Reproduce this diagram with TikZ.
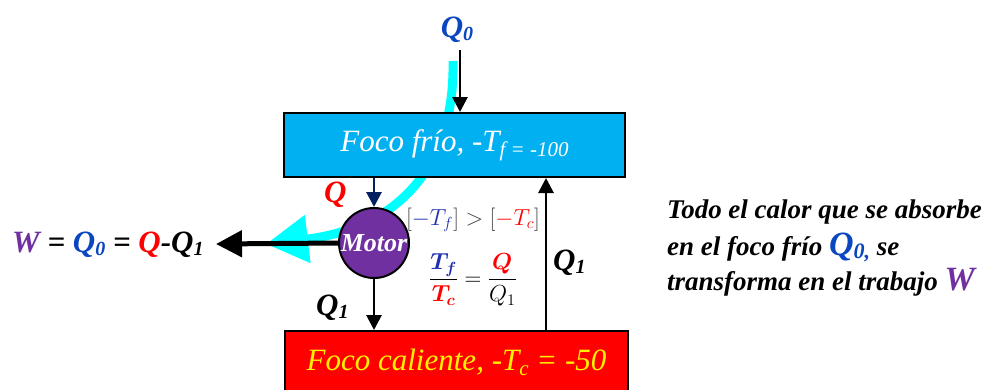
\documentclass[tikz,border=0pt]{standalone}
\usepackage{amsmath}
\usepackage{graphicx}
\usepackage{fontspec}
\setmainfont{Liberation Serif}
\usetikzlibrary{arrows.meta}
\definecolor{boxblue}{HTML}{00B0F0}
\definecolor{cyanc}{HTML}{00FFFF}
\definecolor{qblue}{HTML}{0A46C0}
\definecolor{mpurple}{HTML}{7030A0}
\definecolor{navy}{HTML}{002060}
\definecolor{mblue}{HTML}{2030B0}
\definecolor{gtext}{HTML}{404040}
\newcommand{\fs}[1]{\fontsize{#1}{#1}\selectfont}
\newcommand{\lsub}[3]{\raisebox{-#2pt}{\fs{#1}#3}}
\begin{document}
\begin{tikzpicture}[x=1pt,y=-1pt,
  arr/.style={-{Triangle[length=15pt,width=15pt]}, line width=2.8pt},
  lbl/.style={inner sep=0pt, anchor=base west, font=\bfseries\itshape\fs{31}},
  rtext/.style={inner sep=0pt, anchor=base west, font=\bfseries\itshape\fs{27}},
  focobox/.style={draw=black, line width=2pt, anchor=north west, inner sep=0pt, font=\itshape}]
\clip (0,0) rectangle (984,389);
\fill[white] (0,0) rectangle (984,389);
% cyan flow
\draw[cyanc, line width=9pt, -{Triangle[length=42pt,width=46pt]}]
  (453,61) .. controls (455,165) and (400,228) .. (266,244);
% boxes
\node[focobox, fill=boxblue, minimum width=341pt, minimum height=64pt, text=white, font=\itshape\fs{31}]
  (cold) at (283,112) {Foco frío, -T\lsub{21}{5}{f = -100}};
\node[focobox, fill=red, minimum width=343pt, minimum height=70pt, text=yellow, font=\itshape\fs{31}, text depth=14pt, text height=22pt]
  (hot) at (284,330) {Foco caliente, -T\lsub{21}{5}{c} = -50};
% motor
\node[circle, draw=black, line width=2pt, fill=mpurple, minimum size=70pt, inner sep=0pt,
  text=white, font=\bfseries\itshape\fs{26}] (motor) at (374,243) {Motor};
% Q0 input
\node[inner sep=0pt, anchor=base, text=qblue, font=\bfseries\itshape\fs{31}] (q0) at (457,37) {Q\lsub{20}{3}{0}};
\coordinate (q0s) at (460,50);
\draw[arr] (q0s) -- (q0s |- cold.north);
% arrows
\draw[arr, draw=navy, -{Triangle[length=15pt,width=15pt,fill=navy]}] (cold.south -| motor) -- (motor.north);
\draw[arr] (motor.south) -- (motor |- hot.north);
\coordinate (upx) at (546,330);
\draw[arr] (upx) -- (upx |- cold.south);
\coordinate (wtip) at (216,244);
\draw[line width=5pt, -{Triangle[length=26pt,width=26pt]}] (motor.west) -- (wtip);
% labels
\node[lbl, text=red] (lq) at (324,202) {Q};
\node[lbl] (lq1a) at (316,315) {Q\lsub{20}{3}{1}};
\node[lbl] (lq1b) at (553,270) {Q\lsub{20}{3}{1}};
\node[lbl] (weq) at (12,252) {\textcolor{mpurple}{W} = \textcolor{qblue}{Q\lsub{20}{3}{0}} = \textcolor{red}{Q}-Q\lsub{20}{3}{1}};
% formulas
\node[inner sep=0pt, anchor=base, text=gtext, font=\fs{20}] (ineq) at (473,225)
  {\scalebox{1.12}{$[\textcolor{mblue}{-T_f}] > [\textcolor{red}{-T_c}]$}};
\node[inner sep=0pt, text=black, font=\fs{20}] (frac) at (473,280)
  {\scalebox{1.12}{$\dfrac{\textcolor{mblue}{\boldsymbol{T_f}}}{\textcolor{red}{\boldsymbol{T_c}}}=\dfrac{\textcolor{red}{\boldsymbol{Q}}}{Q_1}$}};
% right text
\node[rtext] (t1) at (667,218) {Todo el calor que se absorbe};
\node[rtext] (t2) at (667,255) {en el foco frío \textcolor{qblue}{\fs{34}Q\lsub{22}{3}{0,}} se};
\node[rtext] (t3) at (667,290) {transforma en el trabajo \textcolor{mpurple}{\fs{34}W}};
\end{tikzpicture}
\end{document}
